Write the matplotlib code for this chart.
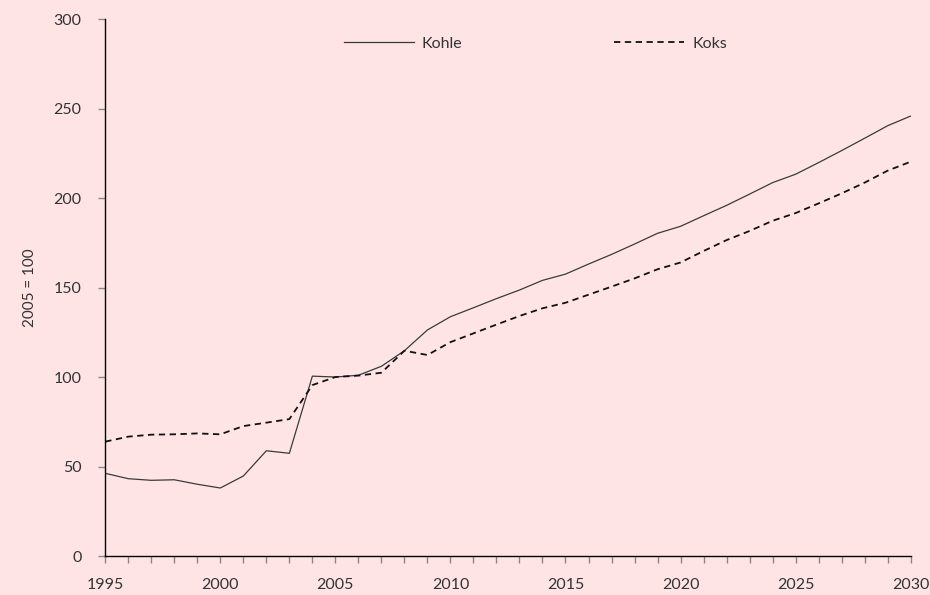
import matplotlib
matplotlib.use("Agg")
import matplotlib.pyplot as plt
from matplotlib.ticker import MultipleLocator

years = list(range(1995, 2031))
kohle = [46.2, 43.2, 42.3, 42.6, 40.1, 38.0, 44.7, 58.8, 57.4, 100.5,
         100.0, 101.0, 106.0, 114.7, 126.3, 133.7, 138.7, 143.8, 148.6, 154.0,
         157.5, 163.1, 168.5, 174.3, 180.3, 184.2, 190.1, 195.9, 202.2, 208.6,
         213.3, 219.8, 226.5, 233.4, 240.4, 245.8]
koks = [63.9, 66.7, 67.8, 68.0, 68.5, 68.0, 72.6, 74.5, 76.5, 95.5,
        100.0, 100.8, 102.4, 114.7, 112.3, 119.5, 124.4, 129.3, 134.1, 138.4,
        141.5, 146.0, 150.5, 155.1, 160.2, 164.0, 170.4, 176.5, 181.6, 187.3,
        191.6, 197.0, 202.6, 208.6, 215.3, 220.3]

bg = "#FFE4E6"
txt = "#333333"
plt.rcParams['font.family'] = ['Lato', 'DejaVu Sans']

fig = plt.figure(figsize=(9.3, 5.95), dpi=100, facecolor=bg)
ax = fig.add_axes([0.1132, 0.0655, 0.866, 0.9025])
ax.set_facecolor(bg)

ax.plot(years, kohle, color="#3a3a3a", lw=0.9, label="Kohle")
ax.plot(years, koks, color="#111111", lw=1.3, ls=(0, (3.5, 2.5)), label="Koks")

ax.set_xlim(1995, 2030)
ax.set_ylim(0, 300)
ax.xaxis.set_major_locator(MultipleLocator(5))
ax.xaxis.set_minor_locator(MultipleLocator(1))
ax.yaxis.set_major_locator(MultipleLocator(50))

for s in ["top", "right"]:
    ax.spines[s].set_visible(False)
for s in ["left", "bottom"]:
    ax.spines[s].set_color("black")
    ax.spines[s].set_linewidth(1.0)

ax.tick_params(axis="both", which="both", direction="out", length=5,
               color="#888888", width=1, labelcolor=txt, labelsize=11.5)
ax.tick_params(axis="y", pad=12)
ax.tick_params(axis="x", which="major", pad=11)

ax.set_ylabel("2005 = 100", color=txt, fontsize=11, labelpad=12)

leg = ax.legend(ncol=2, loc="center", bbox_to_anchor=(0.534, 0.954),
                frameon=False, fontsize=11.5, handlelength=4.4,
                handletextpad=0.5, columnspacing=9.5, labelcolor=txt)

fig.savefig("out.png", dpi=100, facecolor=bg)
